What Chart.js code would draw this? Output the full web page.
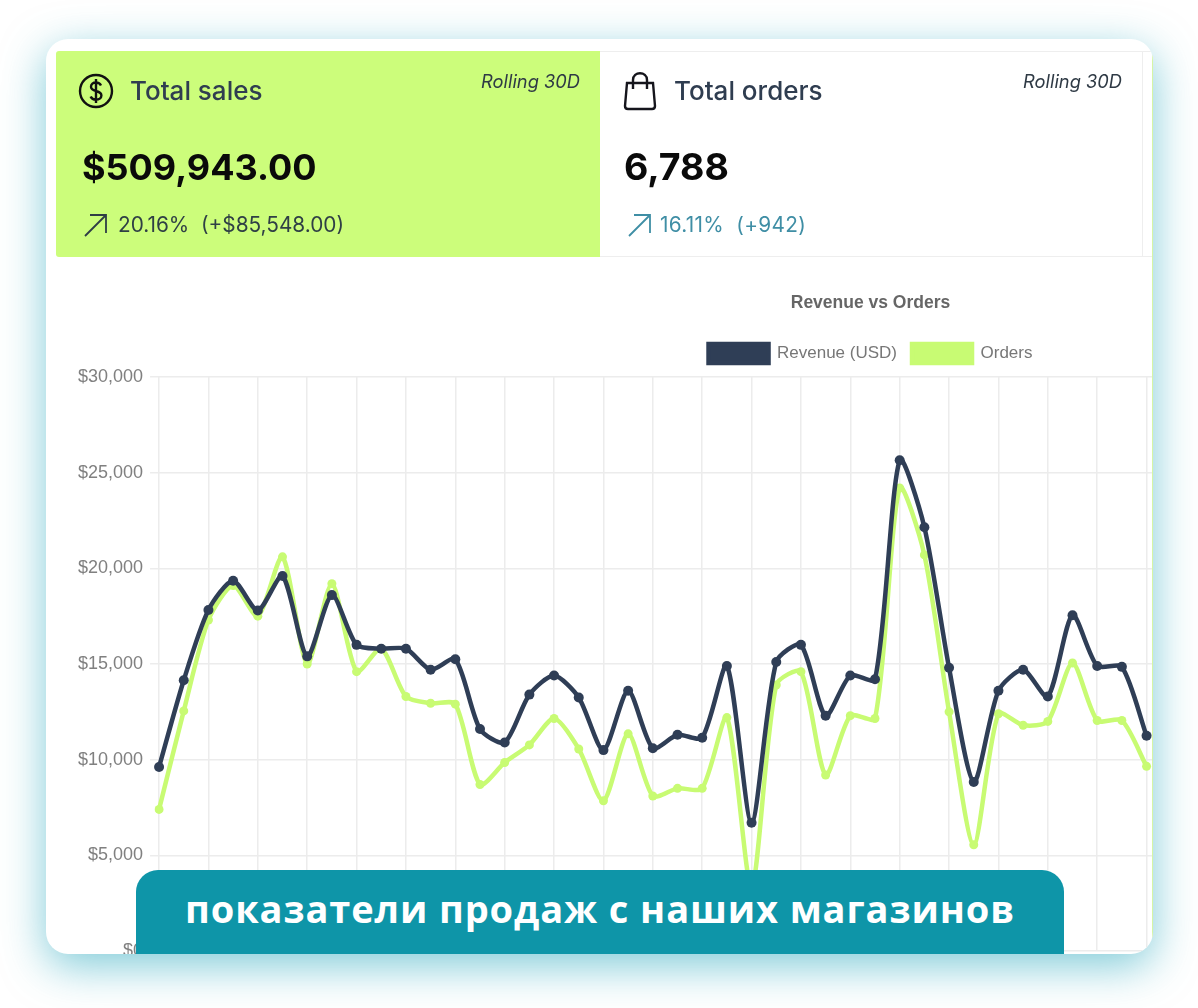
<!DOCTYPE html>
<html lang="ru">
<head>
<meta charset="utf-8">
<script src="https://cdn.jsdelivr.net/npm/chart.js@4"></script>
<style>
  html, body { margin: 0; padding: 0; background: #fff; width: 1198px; height: 1008px; overflow: hidden; }
  #card { position: absolute; left: 46px; top: 39px; width: 1107px; height: 915px; background: #fff; border-radius: 22px;
          box-shadow: 0 12px 44px rgba(60, 175, 195, .65); overflow: hidden; }
  .edge { position: absolute; left: 1106px; top: 12px; width: 1px; bottom: 0; background: #d6f5a6; }
  .tile { position: absolute; top: 12px; height: 206px; font-family: Inter, sans-serif; box-sizing: border-box; filter: blur(.4px); }
  #tile1 { left: 10px; width: 544px; background: #ccfd7b; border-radius: 3px 0 0 3px; }
  #tile2 { left: 554px; width: 543px; border: 1px solid #eee; border-left: 0; }
  #tile3 { left: 1097px; width: 9px; border-top: 1px solid #eee; border-bottom: 1px solid #eee; }
  .name { position: absolute; top: 23px; font-size: 26px; font-weight: 500; color: #2f3d50; line-height: 34px; }
  .roll { position: absolute; top: 19px; right: 20px; font-size: 18.300px; font-style: italic; color: #2f3a45; line-height: 22px; }
  .big { position: absolute; top: 93px; font-size: 36px; font-weight: 700; color: #0a0a0a; line-height: 46px; }
  .sub { position: absolute; top: 161px; font-size: 20.800px; line-height: 26px; white-space: pre; }
  .ico { position: absolute; }
  #wrap { position: absolute; left: 21px; top: 231px; width: 1603px; height: 700px; filter: blur(.5px); }
  #banner { position: absolute; left: 90px; top: 831px; width: 928px; height: 84px; background: #0e95a8; border-radius: 22px 22px 0 0;
            color: #fff; font-family: "Open Sans", sans-serif; font-weight: 700; font-size: 38px; line-height: 77px; text-align: center; letter-spacing: .9px; }
</style>
</head>
<body>
<div id="card">
  <div id="wrap"><canvas id="chart" width="1603" height="700"></canvas></div>
  <div class="edge"></div>
  <div class="tile" id="tile1">
    <svg class="ico" style="left:22px;top:21px" width="36" height="38" viewBox="0 0 36 38" fill="none" stroke="#111" stroke-width="2.400">
      <circle cx="18" cy="19" r="16"/>
      <path d="M23 13.500c-1-2-3-3-5-3-3 0-5 1.600-5 4.200 0 5.600 10.400 3 10.400 8.700 0 2.600-2.400 4.200-5.400 4.200-2.400 0-4.400-1-5.400-3.200M18 7v24"/>
    </svg>
    <div class="name" style="left:74px">Total sales</div>
    <div class="roll">Rolling 30D</div>
    <div class="big" style="left:26px">$509,943.00</div>
    <svg class="ico" style="left:27px;top:161px" width="26" height="26" viewBox="0 0 26 26" fill="none" stroke="#2f3d45" stroke-width="1.800">
      <path d="M2 24L23 3M7 3h16v18"/>
    </svg>
    <div class="sub" style="left:62px;color:#2f3f45">20.16%  (+$85,548.00)</div>
  </div>
  <div class="tile" id="tile2">
    <svg class="ico" style="left:22px;top:19px" width="36" height="40" viewBox="0 0 36 40" fill="none" stroke="#15151c" stroke-width="2.400">
      <path d="M5 12h26l2 23c0 2-1 3-3 3H6c-2 0-3-1-3-3zM11 18V9c0-9 14-9 14 0v9"/>
    </svg>
    <div class="name" style="left:74px;top:22px">Total orders</div>
    <div class="roll" style="top:18px">Rolling 30D</div>
    <div class="big" style="left:24px;top:92px;font-size:37.500px">6,788</div>
    <svg class="ico" style="left:27px;top:160px" width="26" height="26" viewBox="0 0 26 26" fill="none" stroke="#3f8ea5" stroke-width="1.800">
      <path d="M2 24L23 3M7 3h16v18"/>
    </svg>
    <div class="sub" style="left:60px;top:160px;color:#3f8ea5;letter-spacing:.3px">16.11%  (+942)</div>
  </div>
  <div class="tile" id="tile3"></div>
  <div id="banner">показатели продаж с наших магазинов</div>
</div>

<script>
  var chartTitle = 'Revenue vs Orders';
  // the chart runs on past the card's right edge, only the first 41 days are visible
  var days = ['1','2','3','4','5','6','7','8','9','10','11','12','13','14','15','16','17','18','19','20','21',
              '22','23','24','25','26','27','28','29','30','31','32','33','34','35','36','37','38','39','40','41',
              '42','43','44','45','46','47','48','49','50','51','52','53','54','55','56','57','58','59','60','61','62'];
  var revenue = [9620,14150,17820,19350,17800,19600,15400,18600,16000,15800,15800,14700,15250,11600,10900,13400,
                 14400,13250,10500,13600,10600,11300,11150,14900,6700,15100,16000,12300,14400,14200,25650,22150,
                 14800,8830,13600,14700,13300,17550,14900,14850,11250];
  var orders = [7400,12550,17300,19100,17500,20600,15000,19200,14600,15800,13300,12950,12900,8700,9850,10770,
                12150,10560,7850,11350,8100,8500,8500,12200,3300,13900,14600,9200,12300,12150,24200,20700,
                12500,5550,12400,11800,12000,15050,12050,12050,9650];
  var yTicks = [0,5000,10000,15000,20000,25000,30000];

  // extra room under the legend
  var legendGap = {
    id: 'legendGap',
    beforeInit: function (chart) {
      var fit = chart.legend.fit;
      chart.legend.fit = function () {
        fit.call(this);
        this.height += 4;
      };
    }
  };

  var ctx = document.getElementById('chart').getContext('2d');
  var chart = new Chart(ctx, {
    type: 'line',
    plugins: [legendGap],
    data: {
      labels: days,
      datasets: [
        { label: 'Revenue (USD)', data: revenue, borderColor: '#2f3e56', backgroundColor: '#2f3e56', borderWidth: 4.5,
          pointRadius: 5, pointBorderWidth: 0, pointBackgroundColor: '#2f3e56', tension: 0.25, fill: false },
        { label: 'Orders', data: orders, borderColor: '#c8fb73', backgroundColor: '#c8fb73', borderWidth: 4.5,
          pointRadius: 4.5, pointBorderWidth: 0, pointBackgroundColor: '#c8fb73', tension: 0.25, fill: false }
      ]
    },
    options: {
      responsive: false,
      animation: false,
      layout: { padding: { left: 4, right: 0, top: 23, bottom: 19 } },
      plugins: {
        title: { display: true, text: chartTitle, color: '#666', font: { family: '"Liberation Sans"', size: 17.5, weight: 'bold' }, padding: { top: 0, bottom: 15 } },
        legend: { position: 'top', labels: { boxWidth: 60, boxHeight: 19, padding: 15, color: '#777', font: { family: '"Liberation Sans"', size: 17 } } },
        tooltip: { enabled: false }
      },
      scales: {
        x: { offset: false, border: { display: false }, ticks: { display: false },
             grid: { drawTicks: false, lineWidth: 1.5,
                     color: function (c) { return c.index % 2 === 0 ? '#ececec' : 'rgba(0,0,0,0)'; } } },
        y: {
          min: 0, max: 30000,
          afterBuildTicks: function (axis) { axis.ticks = yTicks.map(function (v) { return { value: v }; }); },
          border: { display: false },
          ticks: { color: '#808080', padding: 7, font: { family: '"Liberation Sans"', size: 18 },
                   callback: function (v) { return '$' + v.toLocaleString('en-US'); } },
          grid: { color: '#ececec', lineWidth: 1.5, tickLength: 9 }
        }
      }
    }
  });
</script>
</body>
</html>
